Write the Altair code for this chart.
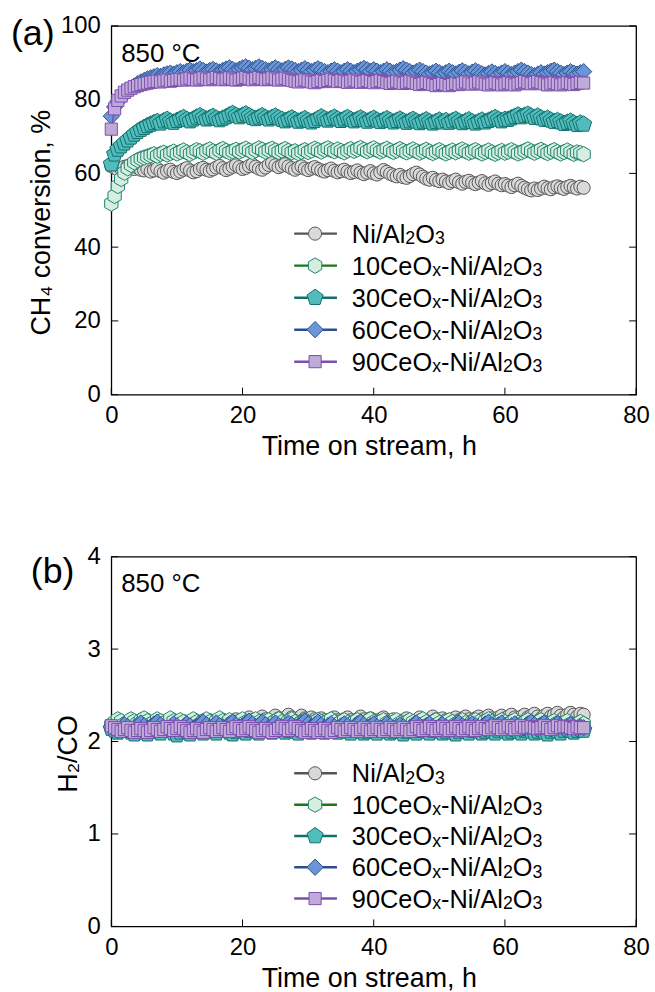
import altair as alt
import pandas as pd

FONT = "Liberation Sans"

# ---------------- data ----------------
time_h = [0, 0.5, 1, 1.5, 2, 2.5, 3, 3.5, 4, 4.5, 5,
          5.5, 6, 6.5, 7, 7.5, 8, 8.5, 9, 9.5, 10,
          10.5, 11, 11.5, 12, 12.5, 13, 13.5, 14, 14.5, 15,
          15.5, 16, 16.5, 17, 17.5, 18, 18.5, 19, 19.5, 20,
          20.5, 21, 21.5, 22, 22.5, 23, 23.5, 24, 24.5, 25,
          25.5, 26, 26.5, 27, 27.5, 28, 28.5, 29, 29.5, 30,
          30.5, 31, 31.5, 32, 32.5, 33, 33.5, 34, 34.5, 35,
          35.5, 36, 36.5, 37, 37.5, 38, 38.5, 39, 39.5, 40,
          40.5, 41, 41.5, 42, 42.5, 43, 43.5, 44, 44.5, 45,
          45.5, 46, 46.5, 47, 47.5, 48, 48.5, 49, 49.5, 50,
          50.5, 51, 51.5, 52, 52.5, 53, 53.5, 54, 54.5, 55,
          55.5, 56, 56.5, 57, 57.5, 58, 58.5, 59, 59.5, 60,
          60.5, 61, 61.5, 62, 62.5, 63, 63.5, 64, 64.5, 65,
          65.5, 66, 66.5, 67, 67.5, 68, 68.5, 69, 69.5, 70,
          70.5, 71, 71.5, 72]

# (a) CH4 conversion, %
ch4_ni = [62.0, 61.5, 61.0, 61.3, 61.8, 62.0, 61.5, 61.2, 61.6, 61.0, 60.8,
          61.2, 60.5, 60.8, 61.3, 60.6, 60.2, 60.7, 61.0, 60.4, 60.1,
          60.5, 61.0, 61.4, 60.8, 60.3, 60.6, 61.2, 61.5, 61.0, 60.7,
          61.1, 61.6, 62.0, 61.4, 60.9, 61.3, 61.8, 62.2, 61.7, 61.2,
          61.5, 62.0, 62.4, 61.8, 61.3, 61.0, 61.6, 62.3, 62.8, 62.2,
          61.7, 62.1, 62.5, 61.9, 61.4, 61.0, 61.5, 61.9, 61.3, 60.9,
          61.3, 61.7, 61.2, 60.8, 60.5, 60.9, 61.3, 60.7, 60.3, 60.6,
          61.0, 60.5, 60.1, 60.4, 60.8, 60.2, 59.8, 60.2, 60.6, 60.0,
          59.7, 60.3, 60.9, 60.4, 59.9, 59.5, 59.2, 59.6, 59.0, 58.8,
          59.3, 59.8, 60.2, 59.7, 59.1, 58.6, 58.3, 58.8, 58.2, 57.9,
          58.3, 57.8, 57.4, 57.9, 58.3, 57.6, 57.2, 57.7, 58.0, 57.5,
          57.1, 57.5, 57.9, 57.3, 56.9, 57.4, 57.8, 57.2, 56.8, 57.1,
          56.7, 56.3, 56.8, 57.2, 56.6, 56.1, 55.7, 55.4, 55.9, 55.5,
          55.9, 56.4, 56.0, 55.7, 56.2, 56.5, 56.1, 55.8, 56.3, 56.6,
          56.2, 55.9, 56.4, 56.1]
ch4_10ce = [51.8, 53.9, 56.6, 58.5, 60.2, 61.4, 62.3, 63.0, 63.6, 64.0, 64.3,
            64.6, 64.9, 65.2, 64.8, 65.3, 65.6, 65.1, 65.5, 65.9, 65.4,
            65.8, 66.2, 65.7, 65.3, 65.8, 66.3, 66.0, 65.6, 66.1, 66.5,
            66.0, 65.6, 66.2, 66.6, 66.1, 65.7, 66.0, 66.4, 65.9, 66.3,
            66.7, 66.2, 65.8, 66.3, 66.8, 66.4, 65.9, 66.3, 66.7, 66.2,
            65.8, 66.2, 66.6, 66.1, 65.7, 66.0, 65.5, 65.9, 66.3, 65.8,
            66.2, 66.7, 66.3, 65.9, 66.4, 66.8, 66.3, 66.0, 66.5, 66.1,
            65.7, 66.2, 66.6, 66.1, 66.5, 66.9, 66.4, 66.0, 66.4, 66.8,
            66.3, 65.9, 66.3, 66.7, 66.2, 65.8, 66.2, 66.6, 66.1, 65.7,
            66.1, 66.5, 66.0, 65.6, 66.0, 66.4, 65.9, 65.5, 65.9, 66.3,
            65.8, 65.4, 65.8, 66.2, 65.7, 66.1, 66.5, 66.0, 65.6, 65.9,
            66.3, 65.8, 65.4, 65.8, 66.2, 65.7, 65.3, 65.7, 66.1, 65.6,
            65.9, 66.3, 65.8, 65.4, 65.7, 66.1, 66.5, 66.0, 65.6, 66.0,
            66.4, 65.9, 65.5, 65.9, 66.3, 65.8, 65.4, 65.8, 66.2, 65.7,
            65.3, 65.7, 65.5, 65.2]
ch4_30ce = [62.5, 65.2, 66.5, 67.4, 68.2, 69.0, 69.8, 70.6, 71.3, 71.9, 72.4,
            72.9, 73.3, 73.7, 74.0, 73.6, 74.2, 74.6, 74.1, 73.8, 74.3,
            74.7, 75.1, 74.6, 74.2, 74.7, 75.2, 75.6, 75.1, 74.7, 75.0,
            75.4, 74.9, 74.5, 74.9, 75.3, 75.8, 76.2, 75.7, 75.3, 75.7,
            76.1, 75.6, 75.1, 74.8, 75.2, 75.6, 75.1, 74.7, 75.1, 75.5,
            75.0, 74.6, 74.2, 74.6, 75.0, 74.5, 74.1, 74.4, 74.8, 74.3,
            73.9, 74.3, 74.8, 75.3, 74.8, 74.4, 74.8, 75.2, 74.7, 74.3,
            74.7, 75.1, 74.6, 74.2, 74.6, 75.0, 74.5, 74.1, 74.5, 74.9,
            74.4, 74.0, 74.4, 74.8, 74.3, 73.9, 74.3, 74.7, 74.2, 73.8,
            74.2, 74.6, 74.1, 73.7, 74.1, 74.5, 74.0, 73.6, 74.0, 74.4,
            73.9, 74.3, 73.8, 74.2, 74.6, 74.1, 73.7, 74.1, 74.5, 74.0,
            73.6, 74.0, 74.4, 73.9, 74.3, 74.7, 75.1, 74.6, 74.2, 74.6,
            74.6, 75.0, 75.4, 75.8, 75.3, 75.7, 76.0, 75.5, 75.1, 75.5,
            75.0, 74.6, 74.9, 74.4, 74.0, 74.3, 73.9, 73.5, 73.8, 74.1,
            73.6, 73.2, 73.6, 73.3]
ch4_60ce = [75.5, 78.0, 79.5, 80.5, 81.5, 82.3, 83.0, 83.7, 84.3, 84.8, 85.2,
            85.6, 85.9, 86.2, 86.5, 86.3, 86.7, 87.0, 87.2, 86.9, 87.3,
            87.6, 87.3, 87.7, 88.0, 87.6, 87.9, 88.3, 87.9, 87.5, 87.9,
            88.2, 87.8, 87.5, 87.9, 88.3, 88.6, 88.2, 87.8, 88.2, 88.6,
            88.9, 88.5, 88.1, 88.5, 88.9, 88.5, 88.1, 87.8, 88.2, 88.6,
            88.2, 87.8, 88.2, 88.6, 88.3, 87.9, 87.6, 88.0, 88.4, 88.0,
            87.6, 88.0, 88.4, 88.0, 87.6, 87.3, 87.7, 88.1, 87.7, 87.3,
            87.7, 88.1, 87.7, 87.3, 87.7, 88.1, 88.5, 88.1, 87.7, 88.1,
            87.7, 87.3, 87.7, 88.1, 87.7, 87.3, 87.6, 88.0, 88.4, 88.0,
            87.6, 87.2, 87.6, 88.0, 87.6, 87.2, 86.9, 87.3, 87.7, 87.3,
            86.9, 87.3, 87.7, 87.3, 87.0, 87.4, 87.8, 87.4, 87.0, 87.4,
            87.8, 87.4, 87.0, 86.7, 87.1, 87.5, 87.1, 86.8, 87.2, 87.6,
            87.2, 86.8, 87.2, 87.6, 88.0, 87.6, 87.2, 86.8, 86.5, 86.9,
            87.3, 86.9, 87.3, 87.7, 88.0, 87.6, 87.2, 86.8, 87.2, 87.6,
            87.2, 86.9, 87.3, 87.6]
ch4_90ce = [72.0, 77.5, 79.8, 81.0, 82.0, 82.6, 83.1, 83.5, 83.8, 84.1, 84.3,
            84.5, 84.7, 84.9, 85.0, 84.8, 85.1, 85.3, 85.0, 85.2, 85.4,
            85.5, 85.3, 85.6, 85.8, 85.5, 85.3, 85.6, 85.9, 85.6, 85.4,
            85.7, 86.0, 85.7, 85.4, 85.6, 85.9, 85.6, 85.3, 85.5, 85.8,
            86.0, 85.7, 85.4, 85.7, 86.0, 85.7, 85.4, 85.6, 85.9, 85.6,
            85.3, 85.6, 85.8, 85.5, 85.2, 85.0, 84.8, 85.1, 85.4, 85.1,
            84.8, 84.6, 84.9, 85.2, 84.9, 85.2, 85.5, 85.2, 84.9, 85.2,
            85.0, 84.7, 85.0, 85.3, 85.0, 84.7, 84.9, 85.2, 84.9, 84.6,
            84.9, 85.2, 84.9, 84.6, 84.4, 84.7, 85.0, 84.7, 84.4, 84.7,
            85.0, 84.7, 84.4, 84.1, 84.4, 84.7, 84.4, 84.1, 83.8, 84.1,
            84.4, 84.1, 83.8, 84.1, 84.4, 84.1, 84.5, 84.8, 84.5, 84.2,
            84.5, 84.8, 84.5, 84.2, 84.0, 84.3, 84.6, 84.3, 84.0, 84.3,
            84.6, 84.3, 84.0, 84.3, 84.6, 84.9, 84.6, 84.3, 84.6, 84.9,
            84.6, 84.3, 84.0, 84.3, 84.6, 84.3, 84.0, 84.3, 84.6, 84.4,
            84.1, 84.4, 84.7, 84.5]

# (b) H2/CO ratio
h2co_ni = [2.18, 2.16, 2.19, 2.17, 2.15, 2.18, 2.20, 2.17, 2.15, 2.18, 2.20,
           2.17, 2.15, 2.18, 2.21, 2.18, 2.16, 2.19, 2.21, 2.18, 2.16,
           2.19, 2.22, 2.19, 2.17, 2.20, 2.22, 2.19, 2.17, 2.20, 2.23,
           2.20, 2.18, 2.21, 2.23, 2.20, 2.18, 2.21, 2.24, 2.21, 2.19,
           2.24, 2.26, 2.23, 2.21, 2.24, 2.27, 2.24, 2.22, 2.25, 2.28,
           2.25, 2.23, 2.26, 2.29, 2.26, 2.23, 2.25, 2.28, 2.25, 2.23,
           2.26, 2.24, 2.22, 2.25, 2.23, 2.21, 2.24, 2.26, 2.23, 2.21,
           2.24, 2.26, 2.23, 2.21, 2.24, 2.27, 2.24, 2.22, 2.25, 2.23,
           2.21, 2.24, 2.26, 2.23, 2.21, 2.24, 2.22, 2.20, 2.23, 2.25,
           2.22, 2.20, 2.23, 2.26, 2.23, 2.21, 2.24, 2.27, 2.24, 2.22,
           2.25, 2.23, 2.21, 2.24, 2.26, 2.23, 2.25, 2.27, 2.24, 2.22,
           2.25, 2.27, 2.24, 2.26, 2.28, 2.25, 2.23, 2.26, 2.28, 2.25,
           2.27, 2.29, 2.26, 2.24, 2.27, 2.29, 2.26, 2.28, 2.30, 2.27,
           2.25, 2.28, 2.30, 2.27, 2.29, 2.31, 2.28, 2.26, 2.29, 2.31,
           2.29, 2.27, 2.30, 2.29]
h2co_10ce = [2.18, 2.21, 2.24, 2.22, 2.19, 2.21, 2.24, 2.22, 2.20, 2.23, 2.25,
             2.22, 2.19, 2.21, 2.24, 2.22, 2.19, 2.22, 2.25, 2.22, 2.20,
             2.23, 2.21, 2.18, 2.21, 2.24, 2.21, 2.19, 2.22, 2.24, 2.21,
             2.19, 2.22, 2.25, 2.22, 2.20, 2.23, 2.21, 2.19, 2.22, 2.24,
             2.21, 2.19, 2.22, 2.24, 2.21, 2.18, 2.21, 2.23, 2.20, 2.22,
             2.24, 2.21, 2.19, 2.22, 2.24, 2.21, 2.19, 2.21, 2.23, 2.20,
             2.18, 2.21, 2.23, 2.21, 2.19, 2.22, 2.24, 2.21, 2.19, 2.21,
             2.23, 2.20, 2.18, 2.21, 2.23, 2.21, 2.19, 2.22, 2.24, 2.21,
             2.19, 2.21, 2.23, 2.20, 2.18, 2.21, 2.23, 2.20, 2.18, 2.21,
             2.23, 2.21, 2.19, 2.22, 2.24, 2.21, 2.19, 2.21, 2.23, 2.20,
             2.18, 2.21, 2.23, 2.21, 2.19, 2.21, 2.23, 2.20, 2.18, 2.21,
             2.23, 2.21, 2.19, 2.22, 2.24, 2.21, 2.19, 2.21, 2.23, 2.21,
             2.19, 2.21, 2.23, 2.20, 2.18, 2.21, 2.23, 2.21, 2.19, 2.21,
             2.23, 2.20, 2.18, 2.20, 2.22, 2.20, 2.18, 2.20, 2.22, 2.19,
             2.17, 2.19, 2.21, 2.19]
h2co_30ce = [2.14, 2.12, 2.10, 2.13, 2.15, 2.12, 2.10, 2.08, 2.11, 2.13, 2.10,
             2.08, 2.11, 2.14, 2.11, 2.09, 2.12, 2.14, 2.12, 2.09, 2.07,
             2.10, 2.13, 2.11, 2.08, 2.11, 2.14, 2.11, 2.09, 2.12, 2.14,
             2.11, 2.09, 2.12, 2.15, 2.12, 2.10, 2.08, 2.11, 2.14, 2.11,
             2.09, 2.12, 2.14, 2.11, 2.09, 2.12, 2.15, 2.12, 2.10, 2.13,
             2.15, 2.12, 2.10, 2.12, 2.14, 2.11, 2.09, 2.12, 2.14, 2.12,
             2.10, 2.12, 2.15, 2.12, 2.10, 2.13, 2.15, 2.12, 2.10, 2.12,
             2.14, 2.11, 2.09, 2.12, 2.14, 2.11, 2.09, 2.11, 2.13, 2.11,
             2.09, 2.12, 2.14, 2.11, 2.09, 2.11, 2.13, 2.11, 2.08, 2.11,
             2.13, 2.11, 2.09, 2.12, 2.14, 2.11, 2.09, 2.12, 2.14, 2.11,
             2.09, 2.11, 2.13, 2.10, 2.08, 2.11, 2.13, 2.11, 2.09, 2.12,
             2.14, 2.11, 2.09, 2.11, 2.13, 2.11, 2.09, 2.12, 2.14, 2.11,
             2.09, 2.11, 2.13, 2.11, 2.09, 2.12, 2.14, 2.11, 2.09, 2.11,
             2.13, 2.10, 2.08, 2.11, 2.13, 2.11, 2.09, 2.12, 2.14, 2.12,
             2.10, 2.12, 2.14, 2.12]
h2co_60ce = [2.16, 2.14, 2.12, 2.15, 2.18, 2.16, 2.13, 2.15, 2.18, 2.20, 2.17,
             2.14, 2.16, 2.19, 2.21, 2.18, 2.15, 2.13, 2.16, 2.19, 2.17,
             2.14, 2.16, 2.19, 2.17, 2.14, 2.16, 2.19, 2.21, 2.18, 2.15,
             2.17, 2.20, 2.17, 2.14, 2.16, 2.19, 2.21, 2.18, 2.15, 2.17,
             2.20, 2.22, 2.19, 2.16, 2.18, 2.21, 2.18, 2.15, 2.17, 2.20,
             2.17, 2.15, 2.17, 2.20, 2.18, 2.15, 2.17, 2.20, 2.22, 2.19,
             2.16, 2.18, 2.21, 2.18, 2.15, 2.17, 2.19, 2.16, 2.14, 2.17,
             2.19, 2.17, 2.14, 2.16, 2.19, 2.21, 2.18, 2.15, 2.17, 2.19,
             2.16, 2.14, 2.16, 2.19, 2.17, 2.14, 2.16, 2.18, 2.16, 2.13,
             2.15, 2.18, 2.20, 2.17, 2.15, 2.17, 2.19, 2.16, 2.14, 2.16,
             2.18, 2.16, 2.13, 2.15, 2.18, 2.20, 2.17, 2.15, 2.17, 2.19,
             2.17, 2.14, 2.16, 2.19, 2.21, 2.18, 2.16, 2.18, 2.20, 2.17,
             2.15, 2.17, 2.19, 2.17, 2.14, 2.16, 2.19, 2.21, 2.18, 2.16,
             2.18, 2.20, 2.17, 2.15, 2.17, 2.19, 2.17, 2.14, 2.16, 2.18,
             2.16, 2.14, 2.16, 2.15]
h2co_90ce = [2.17, 2.15, 2.13, 2.11, 2.13, 2.15, 2.12, 2.10, 2.12, 2.14, 2.12,
             2.10, 2.12, 2.15, 2.13, 2.11, 2.13, 2.16, 2.14, 2.12, 2.14,
             2.16, 2.14, 2.12, 2.10, 2.12, 2.14, 2.12, 2.10, 2.13, 2.15,
             2.13, 2.11, 2.13, 2.15, 2.13, 2.11, 2.14, 2.16, 2.14, 2.12,
             2.14, 2.16, 2.14, 2.12, 2.10, 2.12, 2.14, 2.12, 2.10, 2.12,
             2.14, 2.16, 2.14, 2.12, 2.14, 2.16, 2.14, 2.12, 2.10, 2.12,
             2.14, 2.12, 2.10, 2.12, 2.14, 2.12, 2.10, 2.12, 2.15, 2.13,
             2.11, 2.13, 2.15, 2.13, 2.11, 2.13, 2.15, 2.13, 2.11, 2.13,
             2.15, 2.13, 2.11, 2.13, 2.15, 2.13, 2.11, 2.13, 2.15, 2.13,
             2.11, 2.13, 2.16, 2.14, 2.12, 2.14, 2.16, 2.14, 2.12, 2.14,
             2.16, 2.14, 2.12, 2.14, 2.16, 2.14, 2.12, 2.14, 2.16, 2.14,
             2.12, 2.14, 2.16, 2.14, 2.13, 2.15, 2.17, 2.15, 2.13, 2.15,
             2.17, 2.15, 2.13, 2.15, 2.17, 2.15, 2.15, 2.16, 2.15, 2.14,
             2.15, 2.17, 2.15, 2.13, 2.15, 2.17, 2.15, 2.16, 2.16, 2.15,
             2.14, 2.16, 2.15, 2.15]

# legend labels as (text, is_subscript) pieces
series_labels = [
    [("Ni/Al", 0), ("2", 1), ("O", 0), ("3", 1)],
    [("10CeO", 0), ("x", 1), ("-Ni/Al", 0), ("2", 1), ("O", 0), ("3", 1)],
    [("30CeO", 0), ("x", 1), ("-Ni/Al", 0), ("2", 1), ("O", 0), ("3", 1)],
    [("60CeO", 0), ("x", 1), ("-Ni/Al", 0), ("2", 1), ("O", 0), ("3", 1)],
    [("90CeO", 0), ("x", 1), ("-Ni/Al", 0), ("2", 1), ("O", 0), ("3", 1)],
]

x_tick_values = [0, 20, 40, 60, 80]
ya_tick_values = [0, 20, 40, 60, 80, 100]
yb_tick_values = [0, 1, 2, 3, 4]

# ---------------- styles ----------------
HEX = "M0,-1L0.866,-0.5L0.866,0.5L0,1L-0.866,0.5L-0.866,-0.5Z"
PENT = "M0,-1L0.951,-0.309L0.588,0.809L-0.588,0.809L-0.951,-0.309Z"
shapes = ["circle", HEX, PENT, "diamond", "square"]
sizes = [175, 240, 290, 270, 150]
fills = ["#d9d9d9", "#d6eedf", "#52bcbc", "#6a96d8", "#c0aad8"]
strokes = ["#555555", "#1f8470", "#10706c", "#2d4f8e", "#7b4fae"]
line_cols = ["#555555", "#167a16", "#10706c", "#2d4f8e", "#7b4fae"]

# Arial / Liberation Sans advance widths (per 1000 em) for legend layout
ADV = {"0": 556, "1": 556, "2": 556, "3": 556, "6": 556, "9": 556,
       "C": 722, "e": 556, "O": 778, "x": 500, "-": 333, "N": 722,
       "i": 222, "/": 278, "A": 667, "l": 222}

W = 528
LEG_FS = 25.5
SUB = 0.7


def text_width(s, fs):
    return sum(ADV.get(c, 556) for c in s) * fs / 1000.0


def panel(series, y_domain, y_ticks, y_title, tag, H, leg_y0, leg_dy,
          tag_x, tag_y):
    x_enc = alt.X("t:Q",
                  scale=alt.Scale(domain=[0, 80], nice=False, zero=False),
                  axis=alt.Axis(values=x_tick_values, ticks=False, domain=False,
                                grid=False, labelFontSize=24, titleFontSize=27,
                                labelFont=FONT, titleFont=FONT,
                                titleFontWeight="normal", labelColor="black",
                                titleColor="black", labelPadding=9,
                                titlePadding=6, labelFlush=False,
                                titleX=259,
                                title="Time on stream, h"))
    y_enc = alt.Y("v:Q",
                  scale=alt.Scale(domain=y_domain, nice=False, zero=False),
                  axis=alt.Axis(values=y_ticks, ticks=False, domain=False,
                                grid=False, labelFontSize=24, titleFontSize=27,
                                labelFont=FONT, titleFont=FONT,
                                titleFontWeight="normal", labelColor="black",
                                titleColor="black", labelPadding=11,
                                titlePadding=5, labelFlush=False,
                                titleY=H / 2 + 12,
                                title=y_title))
    layers = []
    # inward tick marks
    xt = pd.DataFrame({"t": x_tick_values})
    layers.append(alt.Chart(xt).mark_rule(color="black", strokeWidth=1).encode(
        x=x_enc, y=alt.value(H), y2=alt.value(H - 7)))
    yt = pd.DataFrame({"v": y_ticks})
    layers.append(alt.Chart(yt).mark_rule(color="black", strokeWidth=1).encode(
        y=y_enc, x=alt.value(0), x2=alt.value(7)))
    layers.append(alt.Chart(yt).mark_rule(color="black", strokeWidth=1).encode(
        y=y_enc, x=alt.value(W - 7), x2=alt.value(W)))
    # series
    for i, vals in enumerate(series):
        df = pd.DataFrame({"t": time_h, "v": vals})
        base = alt.Chart(df).encode(x=x_enc, y=y_enc)
        layers.append(base.mark_line(color=line_cols[i], strokeWidth=1.5))
        layers.append(base.mark_point(shape=shapes[i], size=sizes[i], filled=True,
                                      fill=fills[i], stroke=strokes[i],
                                      strokeWidth=1, opacity=1))
    # legend
    one = pd.DataFrame({"a": [0]})
    for i, pieces in enumerate(series_labels):
        ly = leg_y0 + i * leg_dy
        layers.append(alt.Chart(one).mark_rule(color=line_cols[i], strokeWidth=2.5).encode(
            x=alt.value(184), x2=alt.value(227), y=alt.value(ly)))
        layers.append(alt.Chart(one).mark_point(shape=shapes[i], size=sizes[i], filled=True,
                                                fill=fills[i], stroke=strokes[i],
                                                strokeWidth=1, opacity=1).encode(
            x=alt.value(205), y=alt.value(ly)))
        base_y = ly + 0.358 * LEG_FS
        cx = 242
        for txt, sub in pieces:
            fs = LEG_FS * SUB if sub else LEG_FS
            layers.append(alt.Chart(one).mark_text(
                align="left", baseline="alphabetic", fontSize=fs, font=FONT,
                color="black").encode(
                x=alt.value(cx), y=alt.value(base_y + (1.5 if sub else 0)),
                text=alt.value(txt)))
            cx += text_width(txt, fs)
    # annotations
    layers.append(alt.Chart(one).mark_text(align="left", baseline="alphabetic",
                                           fontSize=26, font=FONT, color="black").encode(
        x=alt.value(10), y=alt.value(36), text=alt.value("850 \u00b0C")))
    layers.append(alt.Chart(one).mark_text(align="left", baseline="alphabetic",
                                           fontSize=36, font=FONT, color="black").encode(
        x=alt.value(tag_x), y=alt.value(tag_y), text=alt.value(tag)))
    return alt.layer(*layers).properties(width=W, height=H)


pa = panel([ch4_ni, ch4_10ce, ch4_30ce, ch4_60ce, ch4_90ce], [0, 100],
           ya_tick_values, "CH\u2084 conversion, %", "(a)", 371, 209, 32.2,
           -101, 19)
pb = panel([h2co_ni, h2co_10ce, h2co_30ce, h2co_60ce, h2co_90ce], [0, 4],
           yb_tick_values, "H\u2082/CO", "(b)", 372, 218, 31.5, -81, 27)

chart = alt.vconcat(pa, pb, spacing=84).properties(
    padding={"left": 10, "top": 10, "right": 5, "bottom": 5},
    background="white",
).configure_view(stroke="black", strokeWidth=1.3)

chart.save("out.html", embed_options={"renderer": "svg", "actions": False})
